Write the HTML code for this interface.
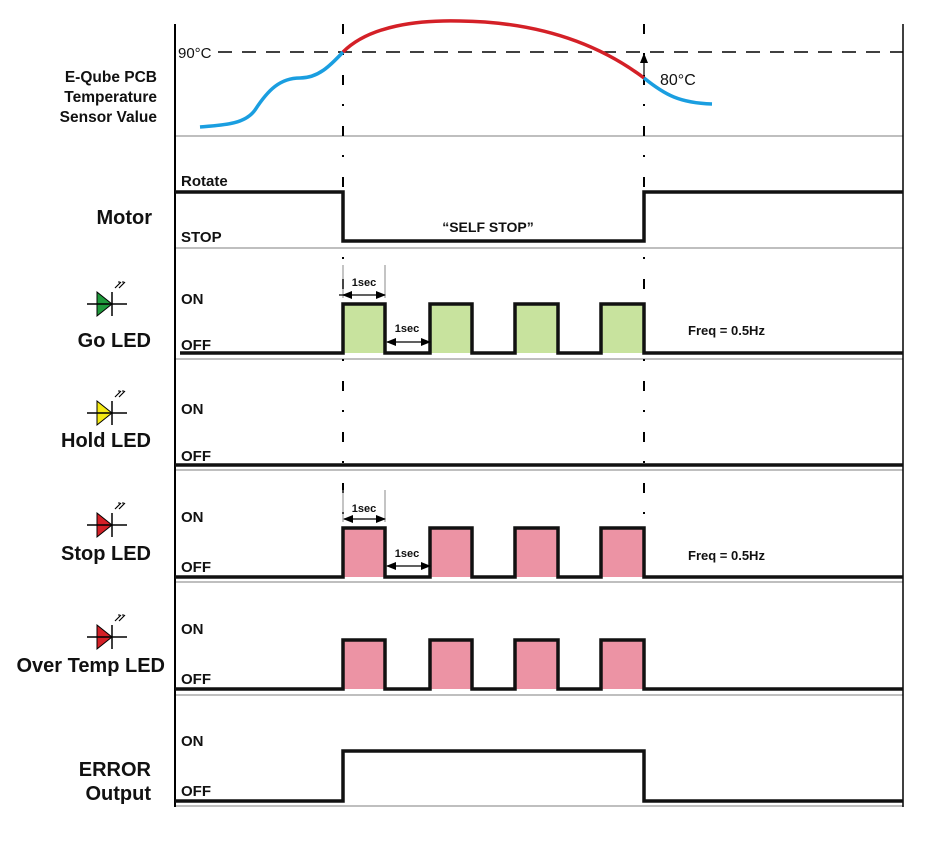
<!DOCTYPE html>
<html><head><meta charset="utf-8"><style>
html,body{margin:0;padding:0;background:#fff;}
svg{display:block;font-family:"Liberation Sans",Arial,sans-serif;font-weight:bold;}
</style></head><body>
<svg width="950" height="854" viewBox="0 0 950 854" xmlns="http://www.w3.org/2000/svg">
<defs>
<marker id="ah" markerWidth="10" markerHeight="8" refX="9" refY="4" orient="auto-start-reverse" markerUnits="userSpaceOnUse">
<path d="M0,0 L10,4 L0,8 Z" fill="#000"/></marker>
<g id="led">
<line x1="-20" y1="0" x2="20" y2="0" stroke="#000" stroke-width="1.5"/>
<line x1="5" y1="-12" x2="5" y2="12" stroke="#000" stroke-width="1.5"/>
<path d="M8,-16 l6,-6 M12,-16 l6,-6" stroke="#000" stroke-width="1.2"/>
<path d="M13,-22 l-2,0 M17,-22 l-2,0" stroke="#000" stroke-width="1"/>
</g>
</defs>

<!-- separators -->
<g stroke="#aaa" stroke-width="1.5">
<line x1="175" y1="136" x2="903" y2="136"/>
<line x1="175" y1="248" x2="903" y2="248"/>
<line x1="175" y1="359" x2="903" y2="359"/>
<line x1="175" y1="470" x2="903" y2="470"/>
<line x1="175" y1="582" x2="903" y2="582"/>
<line x1="175" y1="695" x2="903" y2="695"/>
<line x1="175" y1="806" x2="903" y2="806"/>
</g>
<line x1="175" y1="24" x2="175" y2="807" stroke="#000" stroke-width="2"/>
<line x1="903" y1="24" x2="903" y2="807" stroke="#000" stroke-width="1.5"/>

<!-- dashed verticals -->
<g stroke="#000" stroke-width="2" stroke-dasharray="10 19 2 20">
<line x1="343" y1="24" x2="343" y2="520"/>
<line x1="644" y1="24" x2="644" y2="520"/>
</g>
<line x1="218" y1="52" x2="903" y2="52" stroke="#000" stroke-width="1.5" stroke-dasharray="14 10"/>

<!-- temperature curve -->
<path d="M200,127 C225,125 245,124 255,110 C268,90 280,78 300,78 C318,78 330,66 343,52" fill="none" stroke="#1a9ee0" stroke-width="3.5"/>
<path d="M343,52 C370,25 420,20 460,21 C540,22 600,45 644,78" fill="none" stroke="#d42027" stroke-width="3.5"/>
<path d="M644,78 C665,95 680,103 712,104" fill="none" stroke="#1a9ee0" stroke-width="3.5"/>
<line x1="644" y1="54" x2="644" y2="76" stroke="#000" stroke-width="1.2" marker-start="url(#ah)"/>

<!-- pulses fill -->
<g fill="#c8e39e">
<rect x="343" y="304" width="42" height="49"/><rect x="430" y="304" width="42" height="49"/>
<rect x="515" y="304" width="43" height="49"/><rect x="601" y="304" width="43" height="49"/>
</g>
<g fill="#ec93a4">
<rect x="343" y="528" width="42" height="49"/><rect x="430" y="528" width="42" height="49"/>
<rect x="515" y="528" width="43" height="49"/><rect x="601" y="528" width="43" height="49"/>
<rect x="343" y="640" width="42" height="49"/><rect x="430" y="640" width="42" height="49"/>
<rect x="515" y="640" width="43" height="49"/><rect x="601" y="640" width="43" height="49"/>
</g>

<!-- waveforms -->
<g fill="none" stroke="#111" stroke-width="3.5" stroke-linejoin="miter">
<polyline points="175,192 343,192 343,241 644,241 644,192 903,192"/>
<polyline points="180,353 343,353 343,304 385,304 385,353 430,353 430,304 472,304 472,353 515,353 515,304 558,304 558,353 601,353 601,304 644,304 644,353 903,353"/>
<polyline points="175,465 903,465"/>
<polyline points="175,577 343,577 343,528 385,528 385,577 430,577 430,528 472,528 472,577 515,577 515,528 558,528 558,577 601,577 601,528 644,528 644,577 903,577"/>
<polyline points="175,689 343,689 343,640 385,640 385,689 430,689 430,640 472,640 472,689 515,689 515,640 558,640 558,689 601,689 601,640 644,640 644,689 903,689"/>
<polyline points="175,801 343,801 343,751 644,751 644,801 903,801"/>
</g>

<!-- 1sec annotations -->
<g stroke="#888" stroke-width="1">
<line x1="343" y1="265" x2="343" y2="298"/><line x1="385" y1="265" x2="385" y2="298"/>
<line x1="343" y1="490" x2="343" y2="522"/><line x1="385" y1="490" x2="385" y2="522"/>
</g>
<g stroke="#000" stroke-width="1.2">
<line x1="339" y1="295" x2="385" y2="295" marker-end="url(#ah)"/>
<line x1="347" y1="295" x2="343" y2="295" marker-end="url(#ah)"/>
<line x1="387" y1="342" x2="430" y2="342" marker-end="url(#ah)" marker-start="url(#ah)"/>
<line x1="344" y1="519" x2="385" y2="519" marker-end="url(#ah)" marker-start="url(#ah)"/>
<line x1="387" y1="566" x2="430" y2="566" marker-end="url(#ah)" marker-start="url(#ah)"/>
</g>
<g font-size="11" text-anchor="middle" fill="#111">
<text x="364" y="286">1sec</text><text x="407" y="332">1sec</text>
<text x="364" y="512">1sec</text><text x="407" y="557">1sec</text>
</g>

<!-- right-side texts -->
<g fill="#111">
<text x="178" y="58" font-size="15" font-weight="normal">90°C</text>
<text x="660" y="85" font-size="16" font-weight="normal">80°C</text>
<text x="488" y="232" font-size="14" text-anchor="middle">“SELF STOP”</text>
<text x="688" y="335" font-size="13">Freq = 0.5Hz</text>
<text x="688" y="560" font-size="13">Freq =  0.5Hz</text>
<g font-size="15">
<text x="181" y="186">Rotate</text><text x="181" y="242">STOP</text>
<text x="181" y="304">ON</text><text x="181" y="350">OFF</text>
<text x="181" y="414">ON</text><text x="181" y="461">OFF</text>
<text x="181" y="522">ON</text><text x="181" y="572">OFF</text>
<text x="181" y="634">ON</text><text x="181" y="684">OFF</text>
<text x="181" y="746">ON</text><text x="181" y="796">OFF</text>
</g>
</g>

<!-- left labels -->
<g fill="#111" text-anchor="end">
<g font-size="15.5">
<text x="157" y="82">E-Qube PCB</text>
<text x="157" y="102">Temperature</text>
<text x="157" y="122">Sensor Value</text>
</g>
<g font-size="20">
<text x="152" y="224">Motor</text>
<text x="151" y="347">Go LED</text>
<text x="151" y="447">Hold LED</text>
<text x="151" y="560">Stop LED</text>
<text x="165" y="672">Over Temp LED</text>
<text x="151" y="776">ERROR</text>
<text x="151" y="800">Output</text>
</g>
</g>

<!-- LED icons -->
<g transform="translate(107,304)"><path d="M-10,-12 L5,0 L-10,12 Z" fill="#1f9a3c" stroke="#000" stroke-width="1"/><use href="#led"/></g>
<g transform="translate(107,413)"><path d="M-10,-12 L5,0 L-10,12 Z" fill="#f5ea14" stroke="#000" stroke-width="1"/><use href="#led"/></g>
<g transform="translate(107,525)"><path d="M-10,-12 L5,0 L-10,12 Z" fill="#d42027" stroke="#000" stroke-width="1"/><use href="#led"/></g>
<g transform="translate(107,637)"><path d="M-10,-12 L5,0 L-10,12 Z" fill="#d42027" stroke="#000" stroke-width="1"/><use href="#led"/></g>
</svg>
</body></html>
